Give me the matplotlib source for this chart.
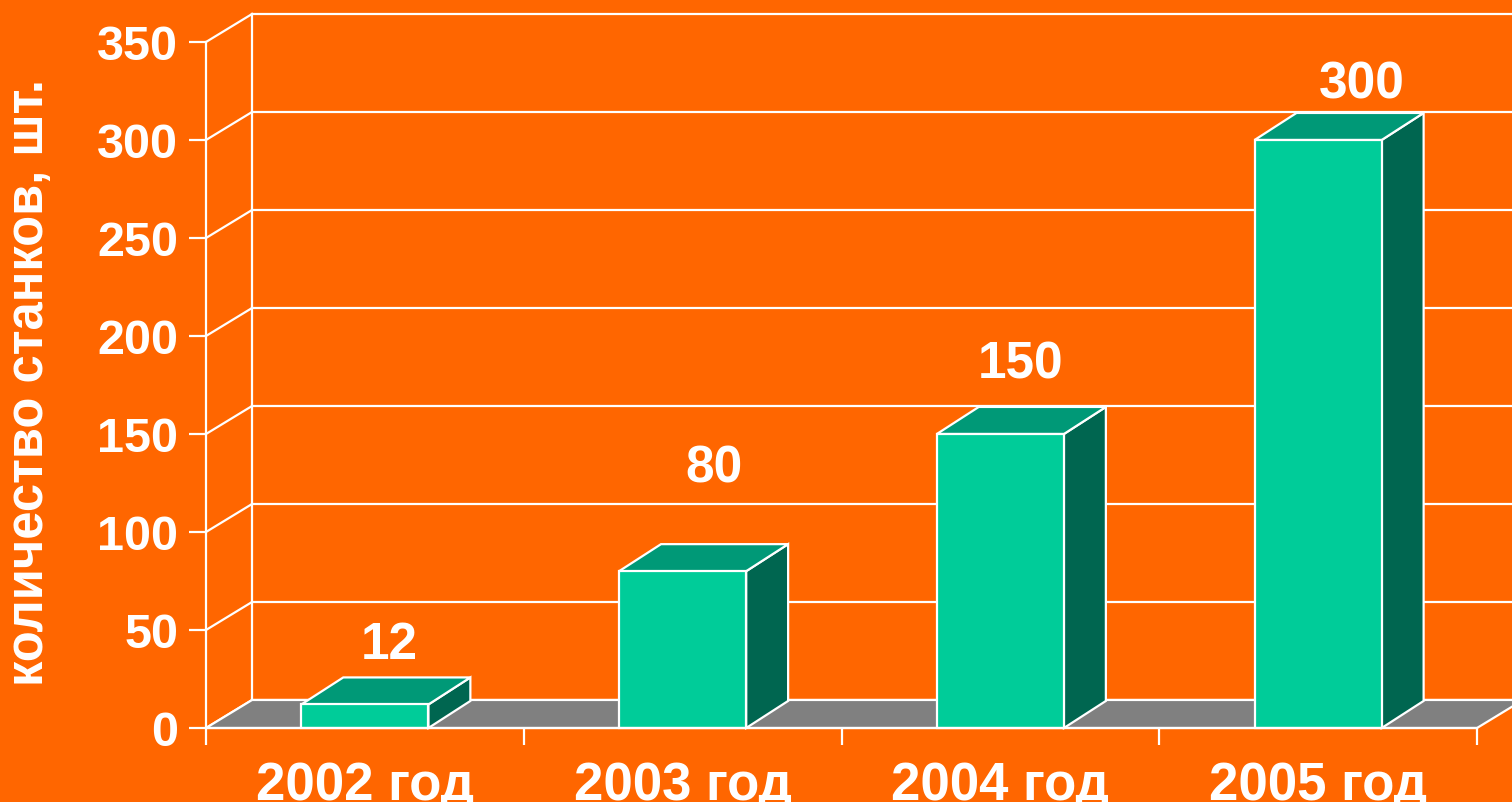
import matplotlib.pyplot as plt
from matplotlib.patches import Polygon

plt.rcParams["font.family"] = ["Liberation Sans", "DejaVu Sans"]

# data
categories = ["2002 год", "2003 год", "2004 год", "2005 год"]
values = [12, 80, 150, 300]
y_ticks = [0, 50, 100, 150, 200, 250, 300, 350]
y_label = "количество станков, шт."

# colours
BG = "#FF6600"
FRONT = "#00CC99"
TOP = "#009977"
SIDE = "#006650"
FLOOR = "#808080"
WHITE = "white"

# depth of the fake 3d (in data units)
WALL_DX, WALL_DY = 0.145, 14.3
BAR_DX, BAR_DY = 0.132, 13.8
BAR_W = 0.4
# nudges of the value labels (x in categories, y in units)
label_nudge = [(0.076, 30), (0.10, 52), (0.063, 35), (0.138, 28)]

fig = plt.figure(figsize=(15.12, 8.02), dpi=100, facecolor=BG)
ax = fig.add_axes([206 / 1512, 74 / 802, 1271 / 1512, 686 / 802])
ax.set_facecolor("none")
ax.set_xlim(-0.5, len(categories) - 0.5)
ax.set_ylim(0, 350)

lw = 1.6
x0 = -0.5
x_right = len(categories) - 0.5

# back wall grid + diagonals
for v in y_ticks:
    ax.plot([x0, x0 + WALL_DX], [v, v + WALL_DY], color=WHITE, lw=lw,
            clip_on=False, zorder=1)
    ax.plot([x0 + WALL_DX, x_right + 0.5], [v + WALL_DY, v + WALL_DY],
            color=WHITE, lw=lw, clip_on=False, zorder=1)
ax.plot([x0 + WALL_DX, x0 + WALL_DX], [WALL_DY, y_ticks[-1] + WALL_DY],
        color=WHITE, lw=lw, clip_on=False, zorder=1)

# floor
floor = Polygon([(x0, 0), (x_right, 0), (x_right + WALL_DX, WALL_DY),
                 (x0 + WALL_DX, WALL_DY)], closed=True, facecolor=FLOOR,
                edgecolor=WHITE, lw=lw, clip_on=False, zorder=2)
ax.add_patch(floor)

# bars
for i, v in enumerate(values):
    l, r = i - BAR_W / 2, i + BAR_W / 2
    side = Polygon([(r, 0), (r + BAR_DX, BAR_DY), (r + BAR_DX, v + BAR_DY), (r, v)],
                   facecolor=SIDE, edgecolor=WHITE, lw=lw, clip_on=False, zorder=3)
    top = Polygon([(l, v), (r, v), (r + BAR_DX, v + BAR_DY), (l + BAR_DX, v + BAR_DY)],
                  facecolor=TOP, edgecolor=WHITE, lw=lw, clip_on=False, zorder=3)
    ax.add_patch(side)
    ax.add_patch(top)
    ax.bar(i, v, width=BAR_W, color=FRONT, edgecolor=WHITE, lw=lw, zorder=4,
           clip_on=False)
    ndx, ndy = label_nudge[i]
    ax.text(i + ndx, v + ndy, str(v), ha="center", va="center", color=WHITE,
            fontsize=37, fontweight="bold", zorder=5)

# axes styling
for s in ["top", "right"]:
    ax.spines[s].set_visible(False)
for s in ["left", "bottom"]:
    ax.spines[s].set_color(WHITE)
    ax.spines[s].set_linewidth(lw)
    ax.spines[s].set_zorder(6)

ax.set_yticks(y_ticks)
ax.set_yticklabels([str(t) for t in y_ticks])
ax.tick_params(axis="y", colors=WHITE, length=12, width=lw, pad=8,
               labelsize=35)
for t in ax.get_yticklabels():
    t.set_fontweight("bold")

ax.set_xticks([k - 0.5 for k in range(len(categories) + 1)])
ax.set_xticklabels([])
ax.set_xticks(range(len(categories)), minor=True)
ax.set_xticklabels(categories, minor=True, fontsize=38, fontweight="bold",
                   color=WHITE)
ax.tick_params(axis="x", which="major", colors=WHITE, length=12, width=lw)
ax.tick_params(axis="x", which="minor", length=0, pad=24)

fig.text(30 / 1512, 1 - 383 / 802, y_label, rotation=90, ha="center",
         va="center", color=WHITE, fontsize=36.5, fontweight="bold")

fig.savefig("out.png", dpi=100, facecolor=BG)
